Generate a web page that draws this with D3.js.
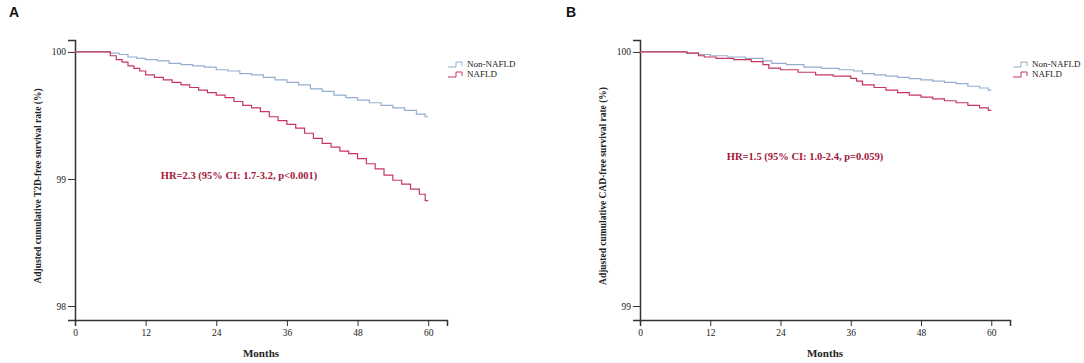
<!DOCTYPE html>
<html>
<head>
<meta charset="utf-8">
<script src="https://cdn.jsdelivr.net/npm/d3@7"></script>
<style>
  body { margin: 0; background: #fff; }
  svg { display: block; }
</style>
</head>
<body>
<svg class="main" width="1084" height="363"></svg>
<script>
(function () {
  'use strict';

  const serif = "Liberation Serif, Times New Roman, serif";

  // months ticks shared by both panels
  const monthTicks = [0, 12, 24, 36, 48, 60];
  const seriesNames = ["Non-NAFLD", "NAFLD"];

  // panel A: T2D-free survival, [month, %] at each step
  const t2dNonNafld = [
    [0, 100], [6, 99.99], [7.5, 99.98], [9, 99.96], [10.5, 99.95], [12, 99.94],
    [14, 99.93], [16, 99.91], [18, 99.9], [20, 99.89], [22, 99.88], [24, 99.86],
    [26, 99.85], [28, 99.83], [30, 99.82], [32, 99.8], [34, 99.78], [36, 99.76],
    [38, 99.74], [40, 99.71], [42, 99.69], [44, 99.66], [46, 99.64], [48, 99.62],
    [50, 99.6], [52, 99.58], [54, 99.56], [56, 99.54], [58, 99.51], [59.5, 99.49],
    [60, 99.49]
  ];
  const t2dNafld = [
    [0, 100], [6, 99.97], [7, 99.94], [8, 99.92], [9, 99.89], [10, 99.87],
    [11, 99.85], [12, 99.82], [13.5, 99.8], [15, 99.78], [16.5, 99.76], [18, 99.74],
    [19.5, 99.72], [21, 99.7], [22.5, 99.68], [24, 99.66], [25.5, 99.64], [27, 99.61],
    [28.5, 99.58], [30, 99.56], [31.5, 99.53], [33, 99.49], [34.5, 99.46], [36, 99.43],
    [37.5, 99.4], [39, 99.36], [40.5, 99.32], [42, 99.28], [43.5, 99.25], [45, 99.22],
    [46.5, 99.2], [48, 99.16], [49.5, 99.12], [51, 99.08], [52.5, 99.03], [54, 98.99],
    [55.5, 98.96], [57, 98.92], [58.5, 98.88], [59.5, 98.83], [60, 98.83]
  ];

  // panel B: CAD-free survival
  const cadNonNafld = [
    [0, 100], [8, 99.995], [10, 99.99], [12, 99.985], [15, 99.98], [18, 99.975],
    [21, 99.965], [22.5, 99.955], [25, 99.95], [28, 99.94], [31, 99.935], [34, 99.93],
    [36.5, 99.925], [38, 99.915], [40, 99.91], [42, 99.905], [44, 99.9], [46, 99.895],
    [48, 99.89], [50, 99.885], [52, 99.88], [54, 99.875], [56, 99.865], [58, 99.858],
    [59.5, 99.85], [60, 99.85]
  ];
  const cadNafld = [
    [0, 100], [8, 99.995], [10, 99.985], [11, 99.98], [13, 99.975], [16, 99.97],
    [19, 99.962], [21, 99.95], [22, 99.936], [24, 99.93], [27, 99.92], [30, 99.91],
    [33, 99.905], [36, 99.896], [37, 99.885], [38, 99.87], [40, 99.86], [42, 99.85],
    [44, 99.84], [46, 99.83], [48, 99.822], [50, 99.815], [52, 99.808], [54, 99.8],
    [56, 99.79], [58, 99.78], [59.5, 99.77], [60, 99.77]
  ];

  const colors = ["#93aed0", "#c7365f"];
  const hrColor = "#a3173a";
  const axisColor = "#333";

  const svg = d3.select("svg.main");

  function drawPanel(p) {
    const g = svg.append("g");

    const x = d3.scaleLinear().domain([0, 63.2]).range([p.left, p.right]);
    const y = d3.scaleLinear().domain(p.yDomain).range([320, 40]);

    // axes
    const xAxis = g.append("g")
      .attr("transform", `translate(0, ${y.range()[0]})`)
      .call(d3.axisBottom(x).tickValues(monthTicks).tickSizeOuter(0).tickSize(6).tickPadding(3));
    const yAxis = g.append("g")
      .attr("transform", `translate(${x.range()[0]}, 0)`)
      .call(d3.axisLeft(y).tickValues(p.yTicks).tickFormat(d3.format("d"))
        .tickSizeOuter(0).tickSize(7).tickPadding(2));

    [xAxis, yAxis].forEach(a => {
      a.attr("font-family", serif).attr("font-size", 9.5);
      a.selectAll("path, line").attr("stroke", axisColor);
      a.select(".domain").attr("stroke-width", 1.5);
      a.selectAll("text").attr("fill", "#222");
    });

    // curves
    const line = d3.line()
      .x(d => x(d[0]))
      .y(d => y(d[1]))
      .curve(d3.curveStepAfter);

    p.series.forEach((s, i) => {
      g.append("path")
        .attr("d", line(s))
        .attr("fill", "none")
        .attr("stroke", colors[i])
        .attr("stroke-width", 1.2);
    });

    // legend
    const leg = g.append("g").attr("transform", `translate(${p.legendX}, 62)`);
    seriesNames.forEach((name, i) => {
      const ly = i * 10;
      leg.append("path")
        .attr("d", `M0,${ly + 5}H8V${ly}H14V${ly + 4}`)
        .attr("fill", "none")
        .attr("stroke", colors[i])
        .attr("stroke-width", 1);
      leg.append("text")
        .attr("font-family", serif)
        .attr("x", 19)
        .attr("y", ly + 5)
        .attr("font-size", 9)
        .attr("fill", "#222")
        .text(name);
    });

    // hazard ratio note
    g.append("text")
      .attr("font-family", serif)
      .attr("x", p.hrX)
      .attr("y", p.hrY)
      .attr("text-anchor", "middle")
      .attr("font-size", 10.5)
      .attr("font-weight", "bold")
      .attr("fill", hrColor)
      .text(p.hr);

    // axis titles
    g.append("text")
      .attr("font-family", serif)
      .attr("x", (p.left + p.right) / 2)
      .attr("y", 357)
      .attr("text-anchor", "middle")
      .attr("font-size", 11)
      .attr("font-weight", "bold")
      .attr("fill", "#222")
      .text("Months");

    g.append("text")
      .attr("font-family", serif)
      .attr("transform", `translate(${p.yLabelX}, 186) rotate(-90)`)
      .attr("text-anchor", "middle")
      .attr("font-size", 9.5)
      .attr("font-weight", "bold")
      .attr("fill", "#222")
      .text(p.yLabel);

    // panel letter
    g.append("text")
      .attr("x", p.letterX)
      .attr("y", 17)
      .attr("font-family", "Liberation Sans, Arial, sans-serif")
      .attr("font-weight", "bold")
      .attr("font-size", 14)
      .attr("fill", "#111")
      .text(p.letter);

    return g;
  }

  drawPanel({
    letter: "A", letterX: 9,
    left: 75, right: 447,
    yDomain: [97.89, 100.094], yTicks: [98, 99, 100],
    series: [t2dNonNafld, t2dNafld],
    legendX: 448,
    hr: "HR=2.3 (95% CI: 1.7-3.2, p<0.001)", hrX: 239, hrY: 179,
    yLabel: "Adjusted cumulative T2D-free survival rate (%)", yLabelX: 41
  });

  drawPanel({
    letter: "B", letterX: 566,
    left: 640, right: 1010,
    yDomain: [98.945, 100.047], yTicks: [99, 100],
    series: [cadNonNafld, cadNafld],
    legendX: 1013,
    hr: "HR=1.5 (95% CI: 1.0-2.4, p=0.059)", hrX: 805, hrY: 160,
    yLabel: "Adjusted cumulative CAD-free survival rate (%)", yLabelX: 606
  });

}());
</script>
</body>
</html>
